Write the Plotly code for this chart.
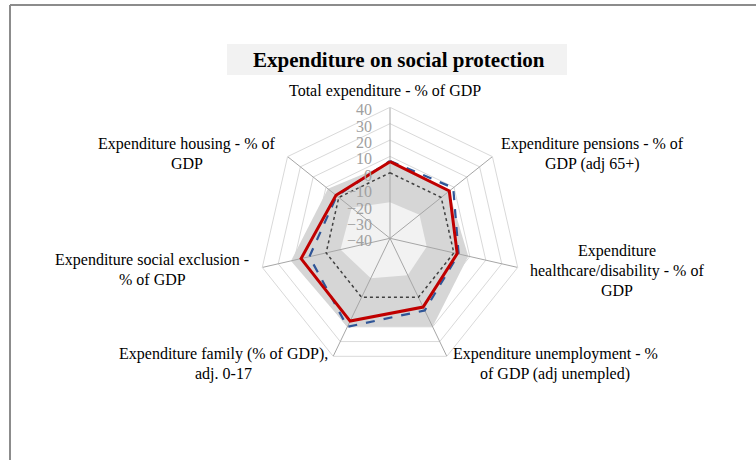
import plotly.graph_objects as go

categories = [
    "Total expenditure - % of GDP",
    "Expenditure pensions - % of GDP (adj 65+)",
    "Expenditure healthcare/disability - % of GDP",
    "Expenditure unemployment - % of GDP (adj unempled)",
    "Expenditure family (% of GDP), adj. 0-17",
    "Expenditure social exclusion - % of GDP",
    "Expenditure housing - % of GDP",
]
max_vals = [6, 6, 9, 20, 20, 22, 8.5]
min_vals = [-18, -17, -17, -15, -13, -9, -10]
country_vals = [6.8, 6.3, 2.1, 6.6, 16.1, 15.7, 2.2]
dashed_vals = [7.2, 9.4, 3.0, 8.9, 20.0, 10.5, 1.6]
avg_vals = [0, 0, 0, 0, 0, 0, 0]
radial_ticks = [-40, -30, -20, -10, 0, 10, 20, 30, 40]

label_lines = [
    (["Total expenditure - % of GDP"], 385, 91),
    (["Expenditure pensions - % of", "GDP (adj 65+)"], 592, 144),
    (["Expenditure", "healthcare/disability - % of", "GDP"], 617, 251),
    (["Expenditure unemployment - %", "of GDP (adj unempled)"], 555, 354),
    (["Expenditure family (% of GDP),", "adj. 0-17"], 223, 354),
    (["Expenditure social exclusion -", "% of GDP"], 152, 260),
    (["Expenditure housing - % of", "GDP"], 187, 144),
]

W, H = 756, 460
SERIF = "Liberation Serif, Times New Roman, serif"


def close(v):
    return list(v) + [v[0]]


theta = close(categories)
fig = go.Figure()

fig.add_trace(go.Scatterpolar(r=close(max_vals), theta=theta, fill="toself",
                              fillcolor="#d6d6d6", line=dict(width=0, color="#d6d6d6"),
                              mode="lines", hoverinfo="skip"))
fig.add_trace(go.Scatterpolar(r=close(min_vals), theta=theta, fill="toself",
                              fillcolor="#f2f2f2", line=dict(width=0, color="#f2f2f2"),
                              mode="lines", hoverinfo="skip"))
# spokes drawn above the fills
for c in categories:
    fig.add_trace(go.Scatterpolar(r=[radial_ticks[0], radial_ticks[-1]], theta=[c, c],
                                  mode="lines", line=dict(color="#a6a6a6", width=1),
                                  hoverinfo="skip"))
fig.add_trace(go.Scatterpolar(r=close(avg_vals), theta=theta, mode="lines",
                              line=dict(color="#404040", width=1.5, dash="dot")))
fig.add_trace(go.Scatterpolar(r=close(dashed_vals), theta=theta, mode="lines",
                              line=dict(color="#2f5597", width=2.2, dash="dash")))
fig.add_trace(go.Scatterpolar(r=close(country_vals), theta=theta, mode="lines",
                              line=dict(color="#c00000", width=3)))

cx, cy, R = 390, 238.3, 131
fig.update_layout(
    width=W, height=H,
    margin=dict(l=0, r=0, t=0, b=0),
    paper_bgcolor="white",
    showlegend=False,
    polar=dict(
        domain=dict(x=[(cx - R) / W, (cx + R) / W], y=[1 - (cy + R) / H, 1 - (cy - R) / H]),
        bgcolor="white",
        gridshape="linear",
        radialaxis=dict(range=[-40, 40], tickvals=radial_ticks, angle=90,
                        side="counterclockwise",
                        showline=False, ticks="outside", ticklen=3, tickcolor="rgba(0,0,0,0)",
                        gridcolor="#d9d9d9", gridwidth=1,
                        tickfont=dict(family=SERIF, size=16, color="#a0a0a0"),
                        layer="above traces"),
        angularaxis=dict(direction="clockwise", rotation=90, showticklabels=False,
                         ticks="", showgrid=False, showline=True,
                         linecolor="#d9d9d9", linewidth=1),
    ),
)

# frame of the chart area
fig.add_shape(type="line", xref="paper", yref="paper", x0=10 / W, x1=1, y0=1 - 5 / H, y1=1 - 5 / H,
              line=dict(color="#8c8c8c", width=2))
fig.add_shape(type="line", xref="paper", yref="paper", x0=10 / W, x1=10 / W, y0=0, y1=1 - 5 / H,
              line=dict(color="#8c8c8c", width=2))
# title box
fig.add_shape(type="rect", xref="paper", yref="paper", x0=227 / W, x1=567 / W,
              y0=1 - 75 / H, y1=1 - 44 / H, fillcolor="#f2f2f2", line=dict(width=0), layer="below")
fig.add_annotation(text="<b>Expenditure on social protection</b>", xref="paper", yref="paper",
                   x=399 / W, y=1 - 60 / H, xanchor="center", yanchor="middle", showarrow=False,
                   font=dict(family=SERIF, size=21, color="black"))

for lines, x, y0 in label_lines:
    for i, ln in enumerate(lines):
        fig.add_annotation(text=ln, xref="paper", yref="paper", x=x / W, y=1 - (y0 + 19.5 * i) / H,
                           xanchor="center", yanchor="middle",
                           showarrow=False, font=dict(family=SERIF, size=16, color="black"))

fig.write_html("out.html", post_script="document.body.style.margin='0';",
               config={"displayModeBar": False})
